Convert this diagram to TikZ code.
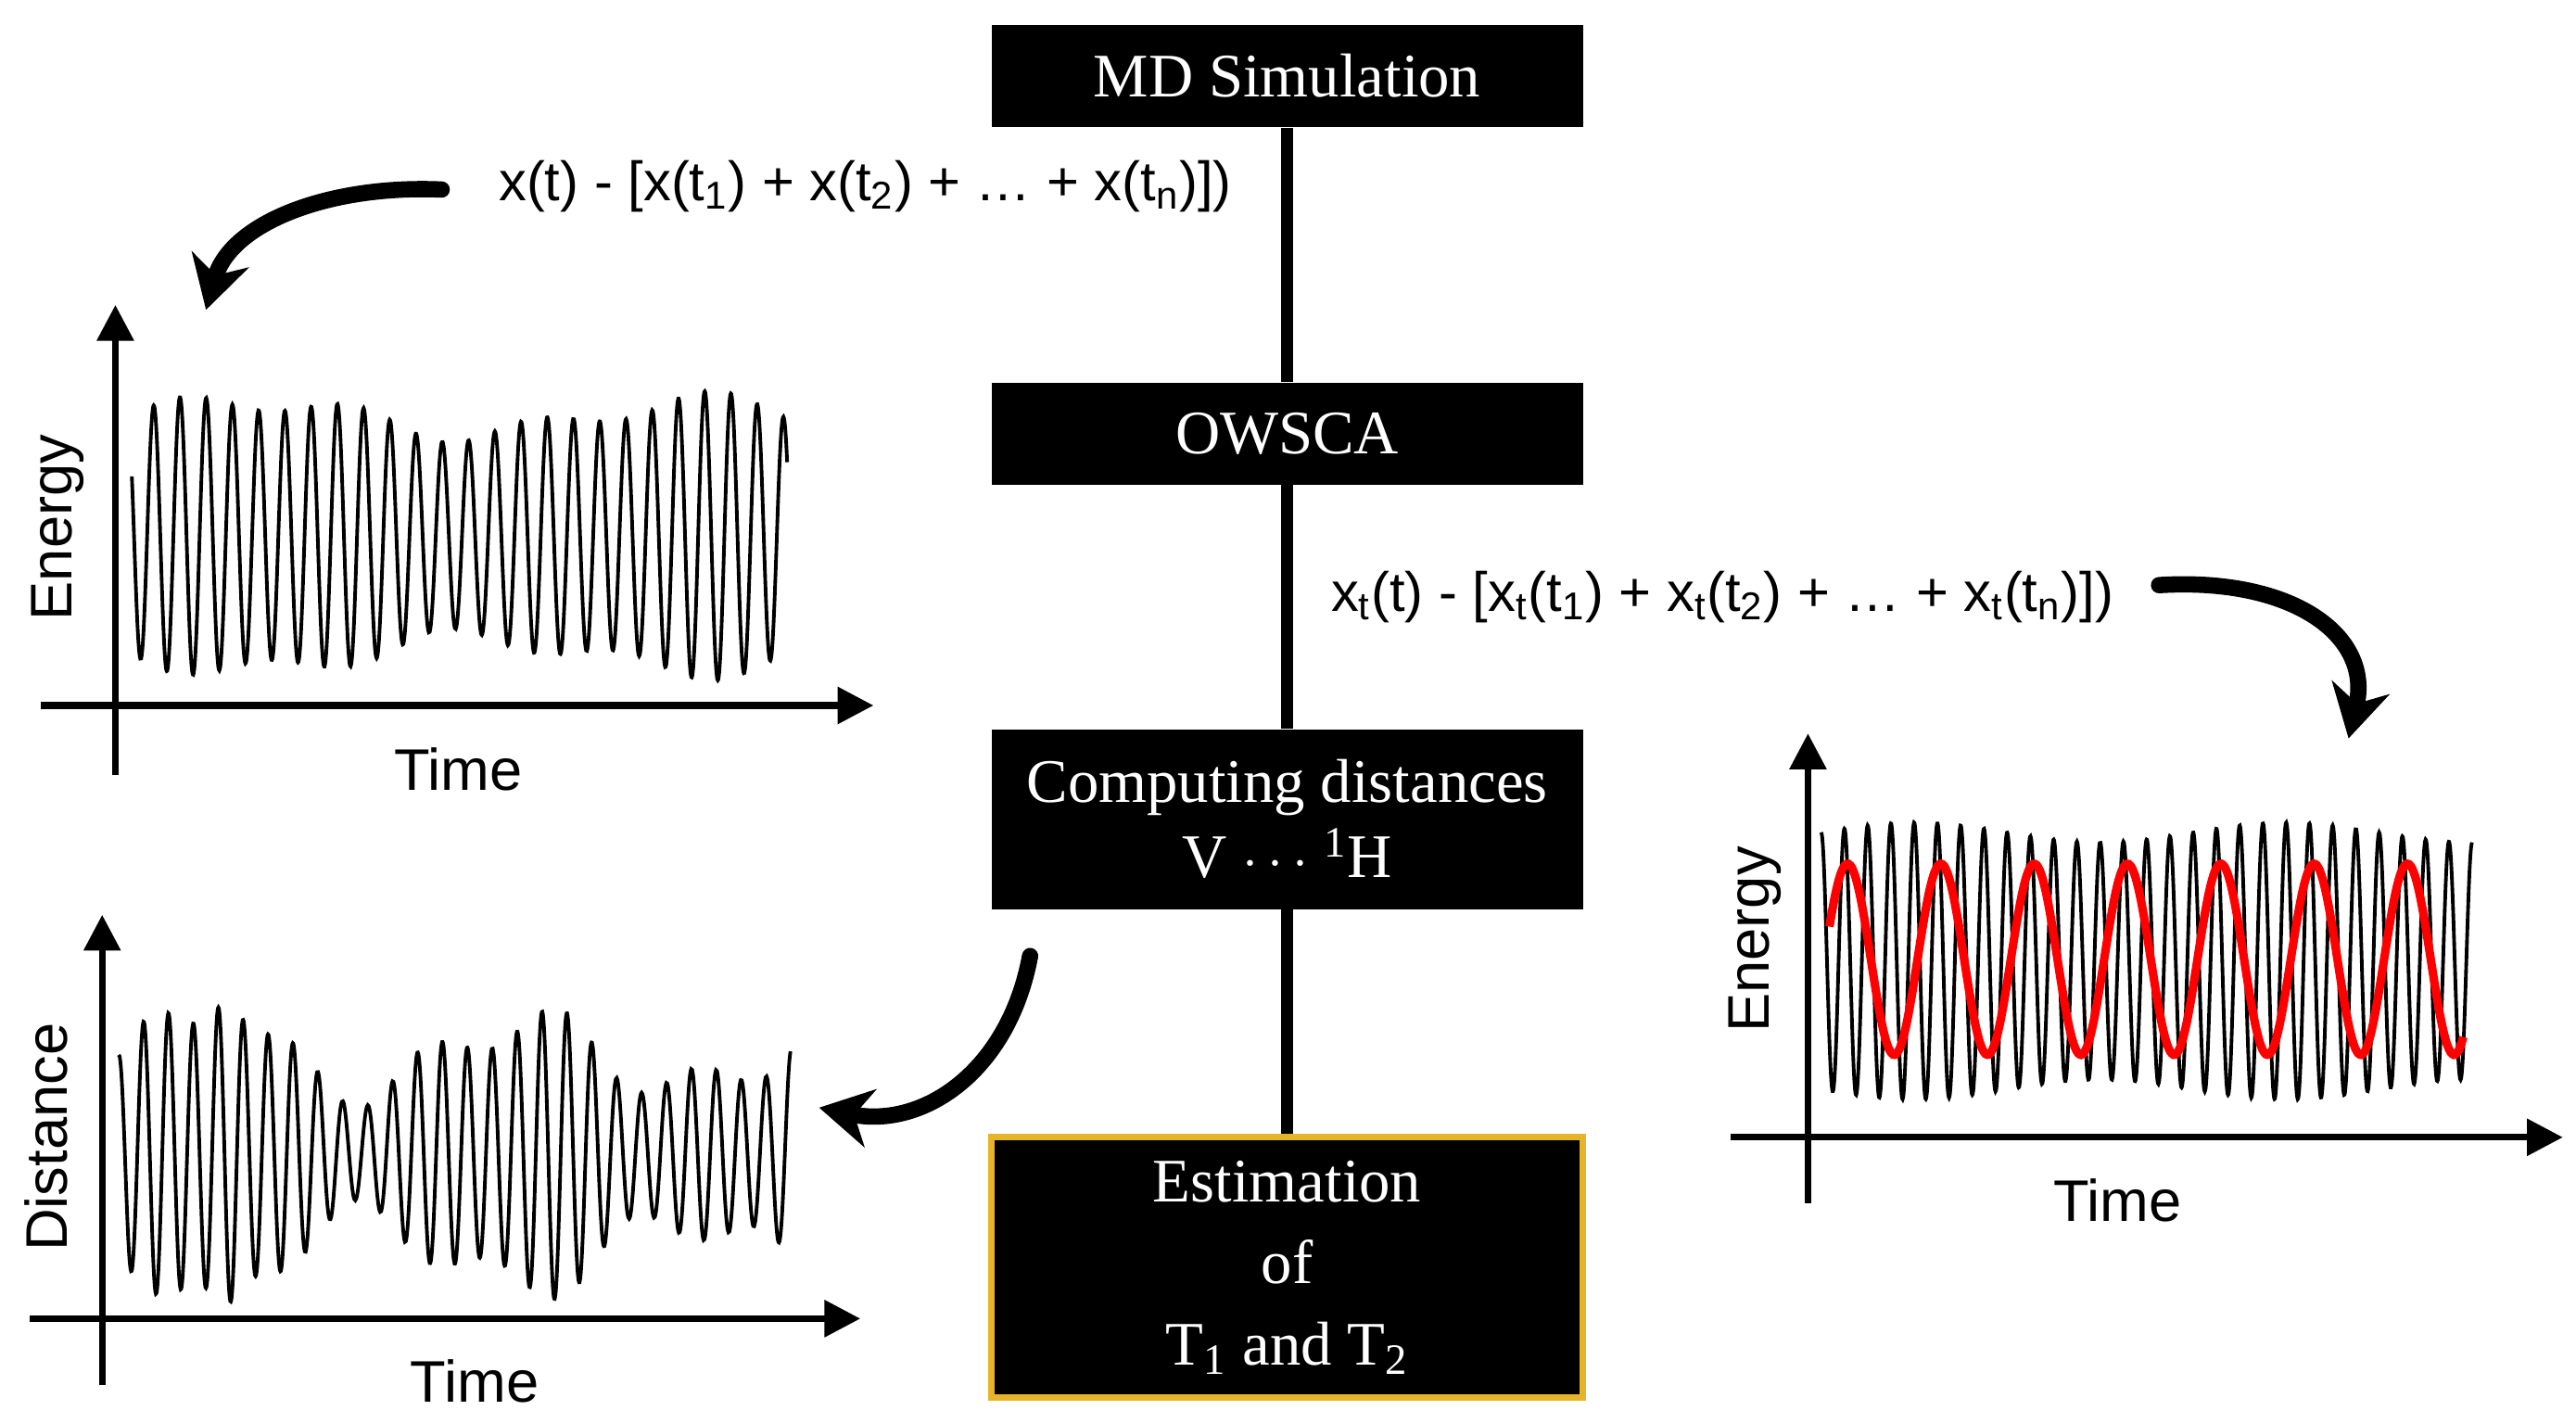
\documentclass[tikz,border=0pt]{standalone}
\usepackage{fontspec}
\setmainfont{Liberation Serif}
\newfontfamily\sansf{Liberation Sans}
\usetikzlibrary{arrows.meta}

\tikzset{
  box/.style={fill=black, text=white, minimum width=6.38cm, align=center,
    font=\fontsize{19}{23}\selectfont},
  formula/.style={font=\sansf\fontsize{17}{20}\selectfont},
  axlabel/.style={font=\sansf\fontsize{18}{21}\selectfont},
  axis/.style={line width=2pt, -{Triangle[length=11pt,width=11pt]}},
  curvearrow/.style={line width=5pt, line cap=round, -{Stealth[length=16pt,width=18pt,inset=5pt]}},
  signal/.style={line width=1.1pt, smooth}
}

\begin{document}
\begin{tikzpicture}[x=0.01778cm, y=-0.01778cm]
\useasboundingbox (0,0) rectangle (1563,863);

% flow boxes
\node[box, minimum height=1.10cm] (md) at (781,46) {MD Simulation};
\node[box, minimum height=1.10cm] (ow) at (781,263) {OWSCA};
\node[box, minimum height=1.94cm] (cd) at (781,497) {Computing distances\\V $\cdots$ \textsuperscript{1}H};
\node[box, minimum height=2.81cm, draw={rgb,255:red,230;green,180;blue,40}, line width=2pt] (est) at (781,769)
  {Estimation\\[2pt]of\\[2pt]T\textsubscript{1} and T\textsubscript{2}};
\draw[line width=3.5pt] (md)--(ow);
\draw[line width=3.5pt] (ow)--(cd);
\draw[line width=3.5pt] (cd)--(est);

% formulas
\node[formula] (f1) at (525,113) {x(t) - [x(t\textsubscript{1}) + x(t\textsubscript{2}) + \ldots\ + x(t\textsubscript{n})])};
\node[formula] (f2) at (1045,362) {x\textsubscript{t}(t) - [x\textsubscript{t}(t\textsubscript{1}) + x\textsubscript{t}(t\textsubscript{2}) + \ldots\ + x\textsubscript{t}(t\textsubscript{n})])};

% curved arrows
\coordinate (s1) at (268,115);
\coordinate (a1) at (125,188);
\coordinate (s2) at (1310,355);
\coordinate (a2) at (1425,448);
\coordinate (s3) at (625,580);
\coordinate (a3) at (497,672);
\draw[curvearrow] (s1) .. controls (200,112) and (140,135) .. (a1);
\draw[curvearrow] (s2) .. controls (1390,350) and (1440,385) .. (a2);
\draw[curvearrow] (s3) .. controls (612,650) and (560,685) .. (a3);

%% energy plot (top left)
\draw[axis] (70,470) -- (70,185);
\draw[axis] (25,428) -- (530,428);
\node[axlabel, rotate=90] (e1) at (35,320) {Energy};
\node[axlabel] (t1) at (278,467) {Time};
\draw[signal] plot[domain=0:1, samples=700]
  ({80+398*\x}, {325-(72+10*sin(9*\x r)+6*sin(23*\x r))*sin(25*360*\x+150)});

%% distance plot (bottom left)
\draw[axis] (62,840) -- (62,555);
\draw[axis] (18,800) -- (522,800);
\node[axlabel, rotate=90] (e2) at (28,690) {Distance};
\node[axlabel] (t2) at (288,838) {Time};
\draw[signal] plot[domain=0:1, samples=700]
  ({72+408*\x}, {700-(60+20*sin(13*\x r)+12*sin(31*\x r)+25*exp(-((\x-0.16)*30)^2))*sin(27*360*\x+90)});

%% energy plot (right)
\draw[axis] (1097,730) -- (1097,445);
\draw[axis] (1050,690) -- (1555,690);
\node[axlabel, rotate=90] (e3) at (1065,570) {Energy};
\node[axlabel] (t3) at (1285,728) {Time};
\draw[signal] plot[domain=0:1, samples=800]
  ({1105+395*\x}, {583-(78+6*sin(11*\x r))*sin(28*360*\x+90)});
\draw[red, line width=2.6pt, smooth] plot[domain=0:1, samples=200]
  ({1110+385*\x}, {582-58*sin(6.8*360*\x+20)});
\end{tikzpicture}
\end{document}
